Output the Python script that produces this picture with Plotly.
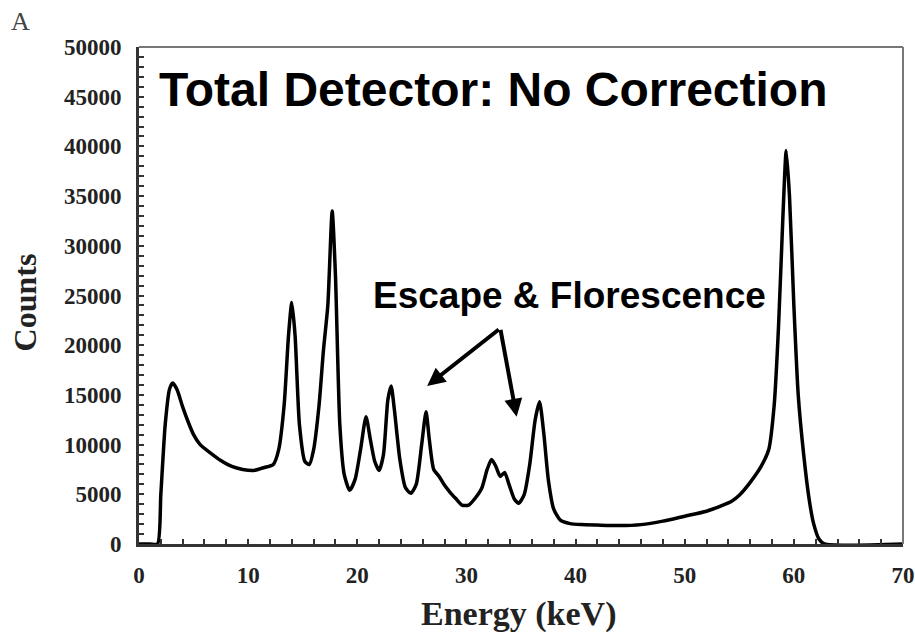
import plotly.graph_objects as go

# Energy spectrum
energy_kev = [0, 1.0, 1.7, 2.0, 2.4, 2.8, 3.1, 3.5, 4.0, 4.5, 5.0, 5.6, 6.5, 7.5, 8.5, 9.5,
              10.5, 11.5, 12.3, 12.8, 13.3, 13.7, 14.0, 14.3, 14.7, 15.2, 15.6, 16.0, 16.5,
              16.9, 17.3, 17.7, 18.0, 18.4, 18.8, 19.3, 19.8, 20.3, 20.8, 21.2, 21.6, 22.0,
              22.4, 22.8, 23.1, 23.4, 23.9, 24.4, 24.9, 25.4, 25.9, 26.3, 26.6, 27.0, 27.5,
              28.0, 28.5, 29.0, 29.6, 30.2, 30.8, 31.4, 31.9, 32.3, 32.7, 33.1, 33.5, 33.9,
              34.4, 34.8, 35.3, 35.8, 36.3, 36.7, 37.1, 37.5, 38.0, 38.6, 39.5, 40.5, 42,
              44, 46, 48, 50, 52, 53.5, 54.3, 55, 56, 57, 57.7, 58.2, 58.6, 59.0, 59.3, 59.6,
              60.0, 60.4, 60.9, 61.4, 61.8, 62.3, 62.8, 70]
counts = [0, 0, 0, 5000, 12000, 15600, 16200, 15500, 13800, 12300, 11000, 10000, 9200, 8400,
          7800, 7500, 7400, 7700, 8000, 9500, 14000, 21000, 24300, 21000, 12000, 8300, 8000,
          9500, 14000, 19500, 24000, 33500, 27000, 12000, 7000, 5400, 6500, 9500, 12800,
          10500, 8300, 7400, 9000, 14500, 15900, 13500, 8500, 5700, 5100, 6000, 10000, 13300,
          10500, 7500, 6800, 5900, 5200, 4600, 3900, 3900, 4600, 5600, 7500, 8500, 7800, 6800,
          7200, 6000, 4500, 4100, 5000, 8000, 12500, 14300, 11000, 6500, 3500, 2400, 2050,
          1950, 1900, 1850, 1950, 2300, 2800, 3300, 3900, 4300, 4900, 6200, 7800, 9500, 14000,
          22000, 33000, 39600, 35000, 24000, 15000, 9000, 4500, 2100, 500, 0, 0]

x_ticks = [0, 10, 20, 30, 40, 50, 60, 70]
y_ticks = [0, 5000, 10000, 15000, 20000, 25000, 30000, 35000, 40000, 45000, 50000]

title_text = "Total Detector: No Correction"
note_text = "Escape & Florescence"
x_label = "Energy (keV)"
y_label = "Counts"
panel_label = "A"

fig = go.Figure()
fig.add_trace(go.Scatter(
    x=energy_kev, y=counts, mode="lines",
    line=dict(color="black", width=3.5, shape="spline", smoothing=0.6),
    hoverinfo="skip", showlegend=False))

tickfont = dict(family="Liberation Serif", size=23, color="#222", weight="bold")
fig.update_xaxes(
    range=[0, 70], tickvals=x_ticks, ticktext=[str(v) for v in x_ticks],
    showline=True, linewidth=3, linecolor="#333", showgrid=False, zeroline=False,
    ticks="inside", ticklen=5, tickwidth=2, tickcolor="#333", automargin=False,
    minor=dict(dtick=2, ticks="inside", ticklen=5, tickwidth=2, tickcolor="#333"),
    tickfont=tickfont, ticklabelstandoff=8)
fig.update_yaxes(
    range=[0, 50000], tickvals=y_ticks, ticktext=[str(v) for v in y_ticks],
    showline=True, linewidth=3, linecolor="#333", showgrid=False, zeroline=False,
    ticks="inside", ticklen=5, tickwidth=2, tickcolor="#333", automargin=False,
    minor=dict(dtick=1000, ticks="inside", ticklen=5, tickwidth=2, tickcolor="#333"),
    tickfont=tickfont, ticklabelstandoff=10)

# thinner frame on top and right
fig.add_shape(type="line", xref="paper", yref="paper", x0=0, x1=1, y0=1, y1=1,
              line=dict(color="#777", width=2))
fig.add_shape(type="line", xref="paper", yref="paper", x0=1, x1=1, y0=0, y1=1,
              line=dict(color="#777", width=2))

sans_bold = dict(family="Liberation Sans", color="black", weight="bold")
fig.add_annotation(text=title_text, xref="paper", yref="paper", x=0.463, y=0.915,
                   xanchor="center", yanchor="middle", showarrow=False,
                   font=dict(size=48, **sans_bold))
fig.add_annotation(text=note_text, xref="paper", yref="paper", x=0.563, y=0.50,
                   xanchor="center", yanchor="middle", showarrow=False,
                   font=dict(size=37, **sans_bold))
# arrows
for tip_x, tip_y in [(26.4, 15900), (34.6, 12800)]:
    fig.add_annotation(x=tip_x, y=tip_y, ax=33.1, ay=21700, xref="x", yref="y",
                       axref="x", ayref="y", text="", showarrow=True,
                       arrowhead=2, arrowsize=0.9, arrowwidth=4, arrowcolor="black")

fig.add_annotation(text=x_label, xref="paper", yref="paper", x=0.497, y=-0.14,
                   xanchor="center", yanchor="middle", showarrow=False,
                   font=dict(family="Liberation Serif", size=34, color="#222", weight="bold"))
fig.add_annotation(text=y_label, xref="paper", yref="paper", x=-0.148, y=0.486,
                   xanchor="center", yanchor="middle", showarrow=False, textangle=-90,
                   font=dict(family="Liberation Serif", size=32, color="#222", weight="bold"))
fig.add_annotation(text=panel_label, xref="paper", yref="paper", x=-0.155, y=1.052,
                   xanchor="center", yanchor="middle", showarrow=False,
                   font=dict(family="Liberation Serif", size=26, color="#444"))

fig.update_layout(
    width=915, height=641, margin=dict(l=139, r=12, t=47, b=97),
    paper_bgcolor="white", plot_bgcolor="white")

fig.write_html("out.html")
